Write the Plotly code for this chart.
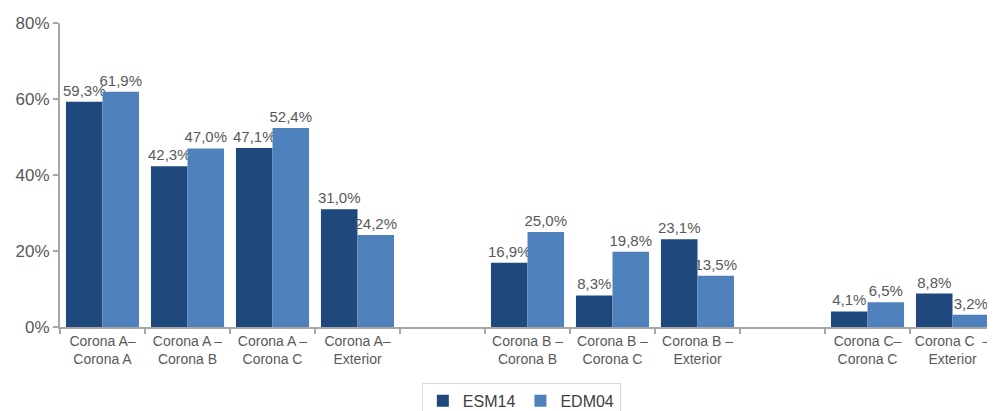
import plotly.graph_objects as go

# categories (blank slots keep the gaps between the corona groups)
categories = [
    "Corona A–<br>Corona A", "Corona A –<br>Corona B", "Corona A –<br>Corona C", "Corona A–<br>Exterior",
    " ",
    "Corona B –<br>Corona B", "Corona B –<br>Corona C", "Corona B –<br>Exterior",
    "  ",
    "Corona C–<br>Corona C", "Corona C  –<br>Exterior",
]
esm14 = [59.3, 42.3, 47.1, 31.0, None, 16.9, 8.3, 23.1, None, 4.1, 8.8]
edm04 = [61.9, 47.0, 52.4, 24.2, None, 25.0, 19.8, 13.5, None, 6.5, 3.2]

def pct_labels(vals):
    return ["" if v is None else f"{v:.1f}%".replace(".", ",") for v in vals]

grey = "#595959"
font_name = "Liberation Sans, Arial, sans-serif"

fig = go.Figure()
fig.add_trace(go.Bar(x=categories, y=esm14, name="ESM14", marker_color="#1F497D",
                     text=pct_labels(esm14), textposition="outside", cliponaxis=False))
fig.add_trace(go.Bar(x=categories, y=edm04, name="EDM04", marker_color="#4F81BD",
                     text=pct_labels(edm04), textposition="outside", cliponaxis=False))

fig.update_traces(textfont=dict(size=15, color=grey, family=font_name),
                  constraintext="none", marker_line_width=0)

# page body has an 8px margin, so the figure is sized to fill the rest of the window
fig.update_layout(
    width=987, height=403,
    margin=dict(l=52, r=0, t=15, b=84),
    plot_bgcolor="white", paper_bgcolor="white",
    barmode="group", bargap=0.14, bargroupgap=0,
    font=dict(family=font_name, color=grey, size=14),
    showlegend=True,
    legend=dict(orientation="h", x=0.387, xanchor="left",
                yref="container", y=0.07, yanchor="top",
                bordercolor="#d9d9d9", borderwidth=1, font=dict(size=16, color="#404040"),
                itemwidth=30, traceorder="normal"),
    xaxis=dict(showline=True, linecolor="#a6a6a6", linewidth=2, ticks="outside",
               tickson="boundaries", ticklen=5, tickcolor="#a6a6a6", tickwidth=2,
               tickangle=0, tickfont=dict(size=14, color=grey), showgrid=False,
               automargin=False),
    yaxis=dict(range=[0, 80], dtick=20, ticksuffix="%", showline=True,
               linecolor="#a6a6a6", linewidth=2, ticks="outside", ticklen=5,
               tickcolor="#a6a6a6", tickwidth=2, showgrid=False, zeroline=False,
               tickfont=dict(size=17, color=grey), automargin=False),
)

fig.write_html("out.html")
